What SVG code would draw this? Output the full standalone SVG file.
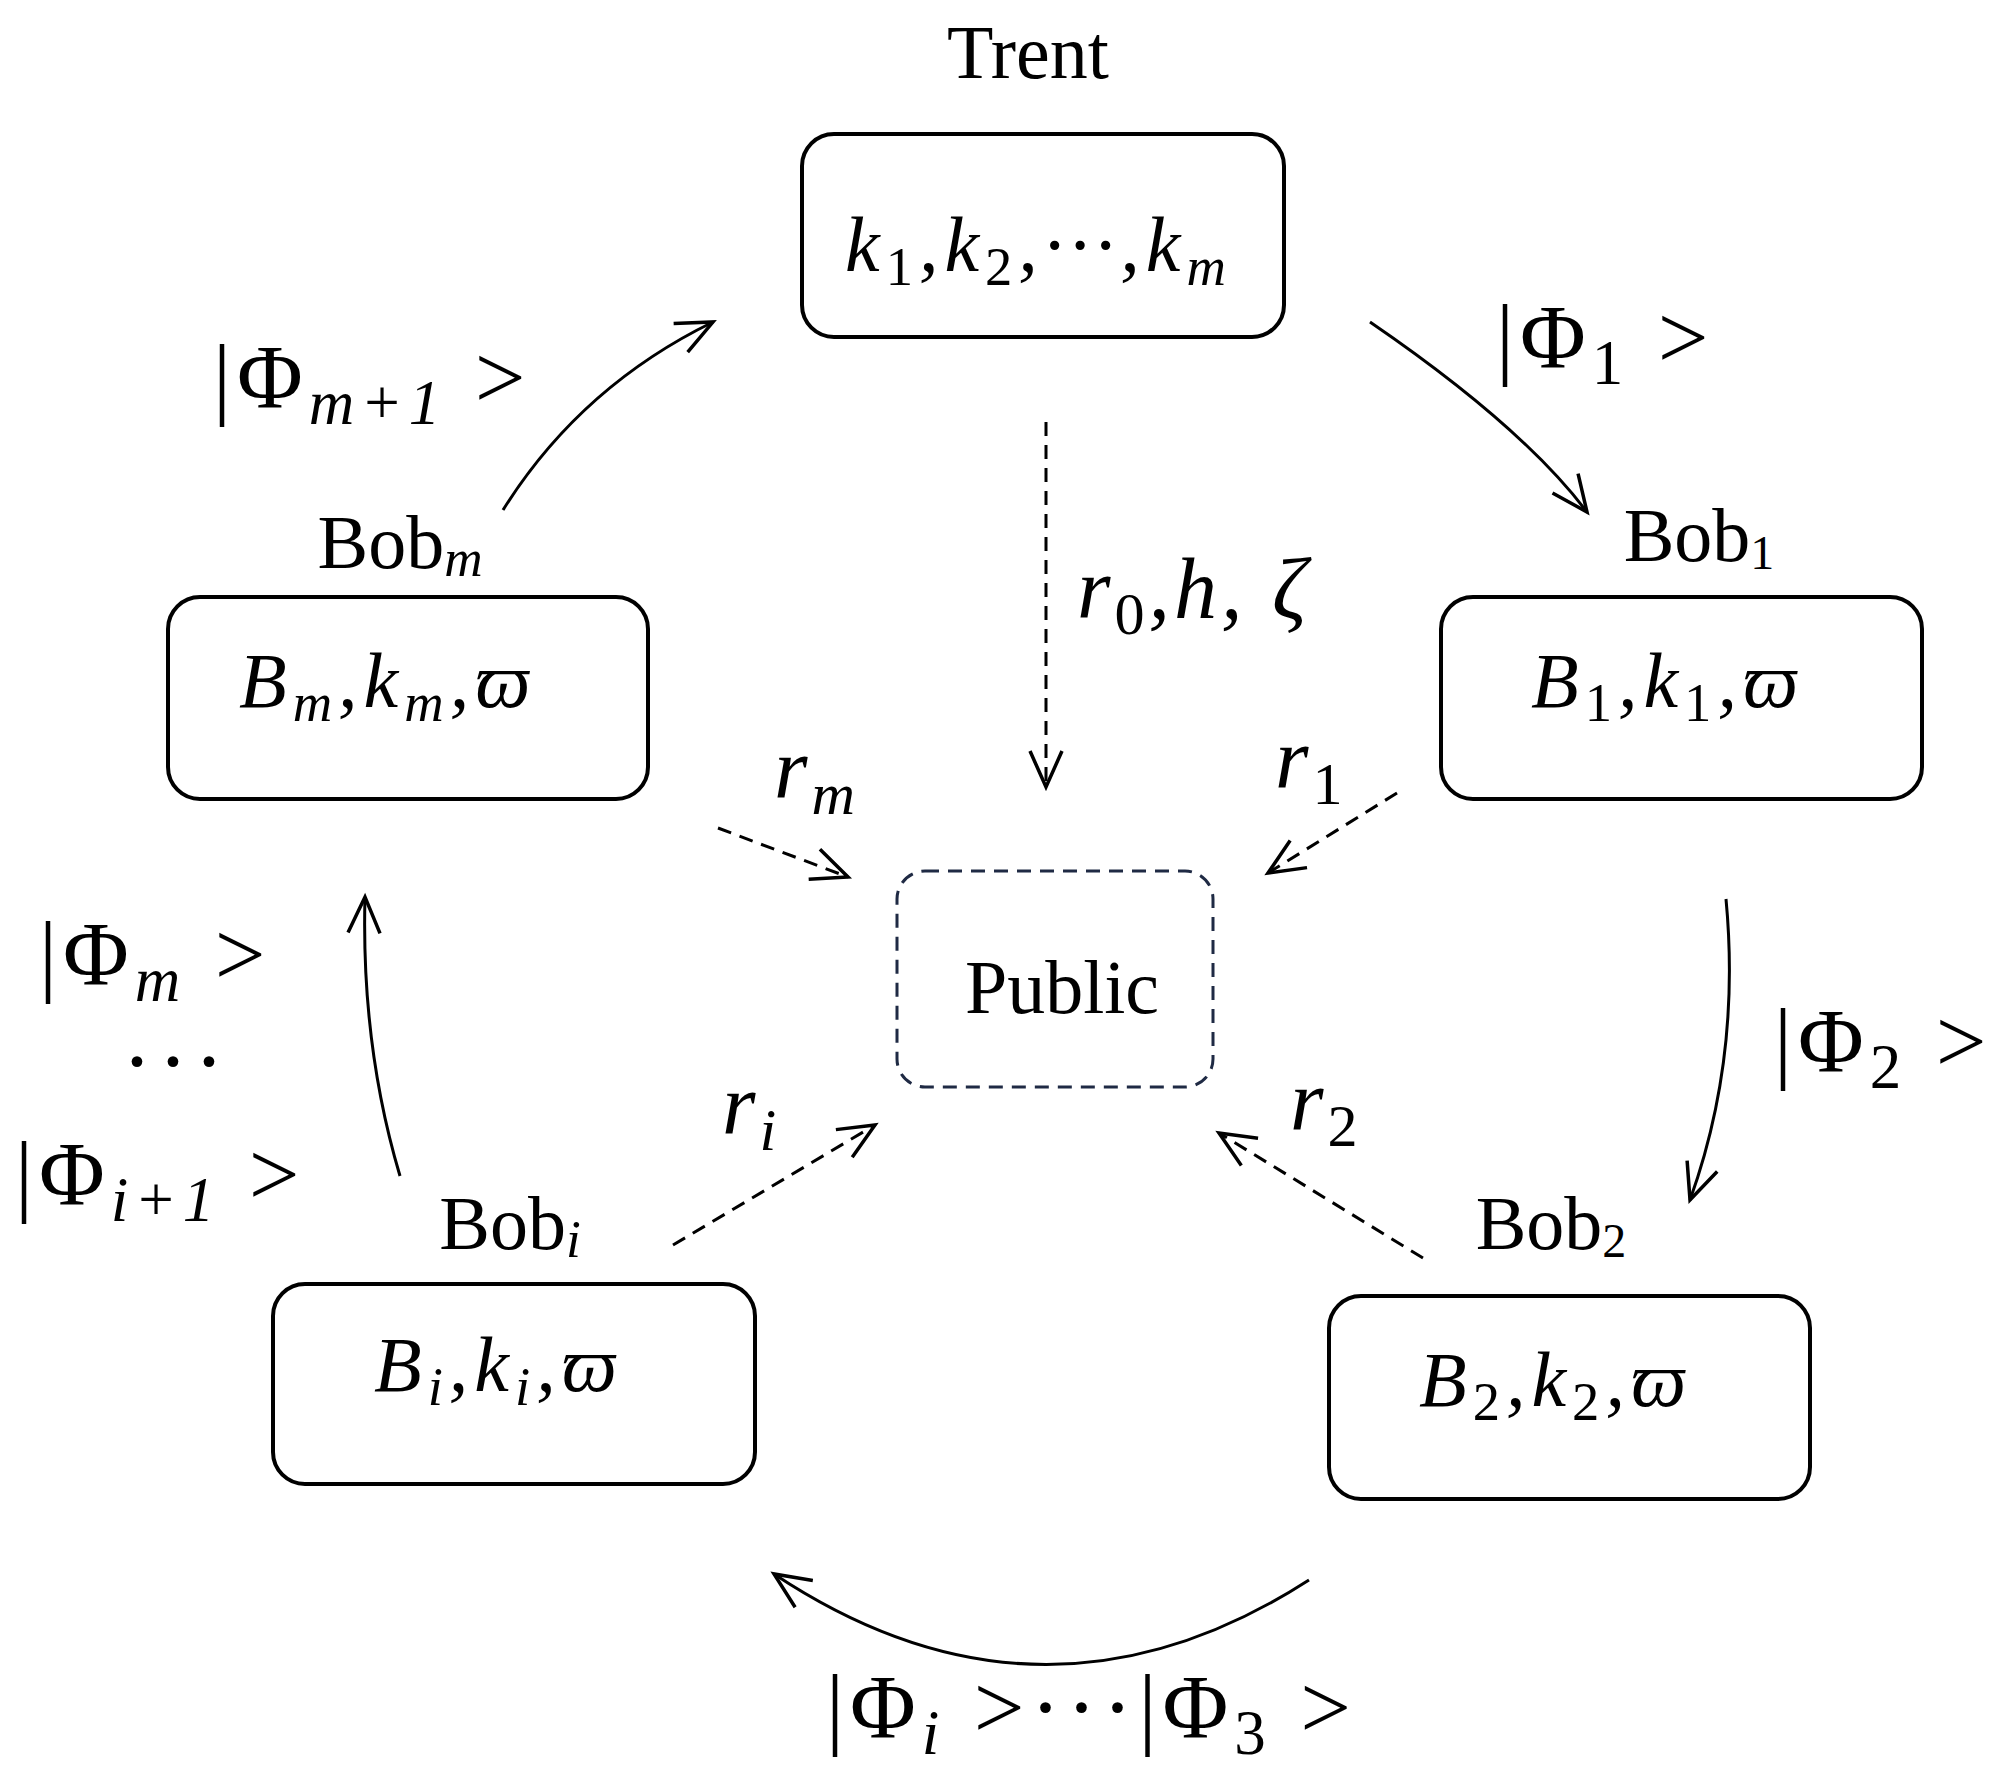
<svg xmlns="http://www.w3.org/2000/svg" width="2012" height="1791" viewBox="0 0 2012 1791">
<style>
text{font-family:"Liberation Serif",serif;fill:#000}
.m{font-style:italic;font-size:78px;letter-spacing:6px}
.r{font-style:italic;font-size:86px;letter-spacing:4px}
.p{font-size:90px;letter-spacing:6px}
.n{font-size:76px}
.box{fill:none;stroke:#000;stroke-width:4}
.c{fill:none;stroke:#000;stroke-width:3}
.d{fill:none;stroke:#000;stroke-width:3;stroke-dasharray:14 9}
.sub{font-size:70%;font-style:italic}
.sd{font-size:70%;font-style:normal}
</style>
<defs>
<marker id="a" markerUnits="userSpaceOnUse" markerWidth="50" markerHeight="50" refX="40" refY="20" orient="auto" viewBox="0 0 50 40">
<path d="M4 4 L40 20 L4 36" fill="none" stroke="#000" stroke-width="3.5"/>
</marker>
</defs>
<rect width="2012" height="1791" fill="#fff"/>
<g id="trent">
<text class="n" x="1028" y="78" text-anchor="middle">Trent</text>
<rect class="box" x="802" y="134" width="482" height="203" rx="32"/>
<text class="m" x="845" y="271">k<tspan class="sd" dy="14">1</tspan><tspan dy="-14">,k</tspan><tspan class="sd" dy="14">2</tspan><tspan dy="-14">,···,k</tspan><tspan class="sub" dy="14">m</tspan></text>
</g>
<g id="bobm">
<text class="n" x="400" y="568" text-anchor="middle">Bob<tspan class="sub" font-size="48" dy="8">m</tspan></text>
<rect class="box" x="168" y="597" width="480" height="202" rx="32"/>
<text class="m" x="239" y="707">B<tspan class="sub" dy="14">m</tspan><tspan dy="-14">,k</tspan><tspan class="sub" dy="14">m</tspan><tspan dy="-14">,ϖ</tspan></text>
</g>
<g id="bob1">
<text class="n" x="1699" y="561" text-anchor="middle">Bob<tspan font-size="48" dy="8">1</tspan></text>
<rect class="box" x="1441" y="597" width="481" height="202" rx="32"/>
<text class="m" x="1531" y="707">B<tspan class="sd" dy="14">1</tspan><tspan dy="-14">,k</tspan><tspan class="sd" dy="14">1</tspan><tspan dy="-14">,ϖ</tspan></text>
</g>
<g id="public">
<rect x="897" y="871" width="316" height="216" rx="28" fill="none" stroke="#1f2a44" stroke-width="3" stroke-dasharray="14 9"/>
<text class="n" x="1062" y="1013" text-anchor="middle">Public</text>
</g>
<g id="bobi">
<text class="n" x="510" y="1249" text-anchor="middle">Bob<tspan class="sub" font-size="48" dy="8">i</tspan></text>
<rect class="box" x="273" y="1284" width="482" height="200" rx="32"/>
<text class="m" x="374" y="1391">B<tspan class="sub" dy="14">i</tspan><tspan dy="-14">,k</tspan><tspan class="sub" dy="14">i</tspan><tspan dy="-14">,ϖ</tspan></text>
</g>
<g id="bob2">
<text class="n" x="1551" y="1249" text-anchor="middle">Bob<tspan font-size="48" dy="8">2</tspan></text>
<rect class="box" x="1329" y="1296" width="481" height="203" rx="32"/>
<text class="m" x="1419" y="1406">B<tspan class="sd" dy="14">2</tspan><tspan dy="-14">,k</tspan><tspan class="sd" dy="14">2</tspan><tspan dy="-14">,ϖ</tspan></text>
</g>
<g id="connectors">
<path class="c" d="M503 510 Q580 387 713 322" marker-end="url(#a)"/>
<path class="c" d="M1370 322 Q1522 426 1587 512" marker-end="url(#a)"/>
<path class="c" d="M1726 899 Q1741 1058 1690 1200" marker-end="url(#a)"/>
<path class="c" d="M1309 1580 Q1042 1752 774 1574" marker-end="url(#a)"/>
<path class="c" d="M400 1176 Q361 1045 365 897" marker-end="url(#a)"/>
<path class="d" d="M1046 422 L1046 787" marker-end="url(#a)"/>
<path class="d" d="M718 828 L848 877" marker-end="url(#a)"/>
<path class="d" d="M1397 793 L1268 873" marker-end="url(#a)"/>
<path class="d" d="M673 1245 L875 1125" marker-end="url(#a)"/>
<path class="d" d="M1423 1258 L1219 1133" marker-end="url(#a)"/>
</g>
<g id="labels">
<text class="p" x="213" y="408">|Φ<tspan class="sub" dy="16">m+1</tspan><tspan dy="-16"> &gt;</tspan></text>
<text class="p" x="1496" y="368">|Φ<tspan class="sd" dy="16">1</tspan><tspan dy="-16"> &gt;</tspan></text>
<text class="r" x="1077" y="618">r<tspan class="sd" dy="16">0</tspan><tspan dy="-16">,h,  ζ</tspan></text>
<text class="r" x="774" y="798">r<tspan class="sub" dy="16">m</tspan></text>
<text class="r" x="1275" y="788">r<tspan class="sd" dy="16">1</tspan></text>
<text class="p" x="39" y="985">|Φ<tspan class="sub" dy="16">m</tspan><tspan dy="-16"> &gt;</tspan></text>
<text class="p" x="122" y="1092">···</text>
<text class="p" x="15" y="1205">|Φ<tspan class="sub" dy="16">i+1</tspan><tspan dy="-16"> &gt;</tspan></text>
<text class="r" x="722" y="1134">r<tspan class="sub" dy="16">i</tspan></text>
<text class="r" x="1290" y="1130">r<tspan class="sd" dy="16">2</tspan></text>
<text class="p" x="1774" y="1072">|Φ<tspan class="sd" dy="16">2</tspan><tspan dy="-16"> &gt;</tspan></text>
<text class="p" x="826" y="1738">|Φ<tspan class="sub" dy="16">i</tspan><tspan dy="-16"> &gt;···|Φ</tspan><tspan class="sd" dy="16">3</tspan><tspan dy="-16"> &gt;</tspan></text>
</g>
</svg>
